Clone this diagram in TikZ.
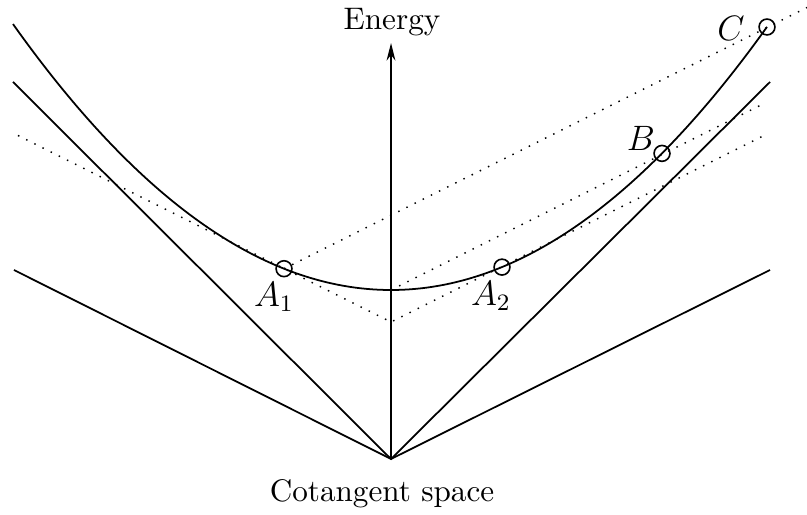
\documentclass[tikz,border=0pt]{standalone}
\usetikzlibrary{arrows.meta}
\begin{document}
\begin{tikzpicture}[x=0.34pt,y=-0.34pt,
  solidline/.style={line width=0.6pt},
  dots/.style={line width=0.5pt, dash pattern=on 0.5pt off 2.6pt},
  ring/.style={circle, draw, line width=0.55pt, inner sep=0pt, minimum size=5.4pt},
  txt/.style={font=\fontsize{10.6pt}{12pt}\selectfont, inner sep=0pt},
  lab/.style={font=\fontsize{12pt}{14pt}\selectfont, inner sep=0pt}]
\useasboundingbox (0,0) rectangle (807,515);
% key points
\coordinate (O) at (391,459);
\coordinate (top) at (391,43);
\coordinate (LS) at (13,82);
\coordinate (RS) at (770,82);
\coordinate (LF) at (14,270);
\coordinate (RF) at (770,270);
\coordinate (a1) at (284,268.7);
\coordinate (a2) at (502,267.1);
\coordinate (b) at (662,153.4);
\coordinate (c) at (767,27);
\coordinate (M) at (391,290);
\coordinate (V) at (391,322);
\coordinate (VL) at (18,135.5);
\coordinate (VR) at (765,135);
\coordinate (ME) at (763,104);
\coordinate (CE) at (807,7.5);
% cone lines
\draw[solidline] (LS) -- (O) -- (RS);
\draw[solidline] (LF) -- (O) -- (RF);
% axis
\draw[solidline,-{Stealth[length=6pt,width=3pt]}] (O) -- (top);
% dotted lines
\draw[dots] (VL) -- (V) -- (VR);
\draw[dots] (M) -- (ME);
\draw[dots] (a1) -- (CE);
% curve (parabola)
\draw[solidline] plot[domain=13:767, samples=120, smooth] (\x, {290-((\x-391)/23.18)^2});
% circles
\node[ring] (A1) at (a1) {};
\node[ring] (A2) at (a2) {};
\node[ring] (B) at (b) {};
\node[ring] (C) at (c) {};
% labels
\node[lab] (lA1) at (274,297) {$A_1$};
\node[lab] (lA2) at (491,296) {$A_2$};
\node[lab] (lB) at (641,138) {$B$};
\node[lab] (lC) at (731,28) {$C$};
\node[txt, anchor=base] (E) at (392,30) {Energy};
\node[txt, anchor=base] (cs) at (382,502) {Cotangent space};
\end{tikzpicture}
\end{document}
